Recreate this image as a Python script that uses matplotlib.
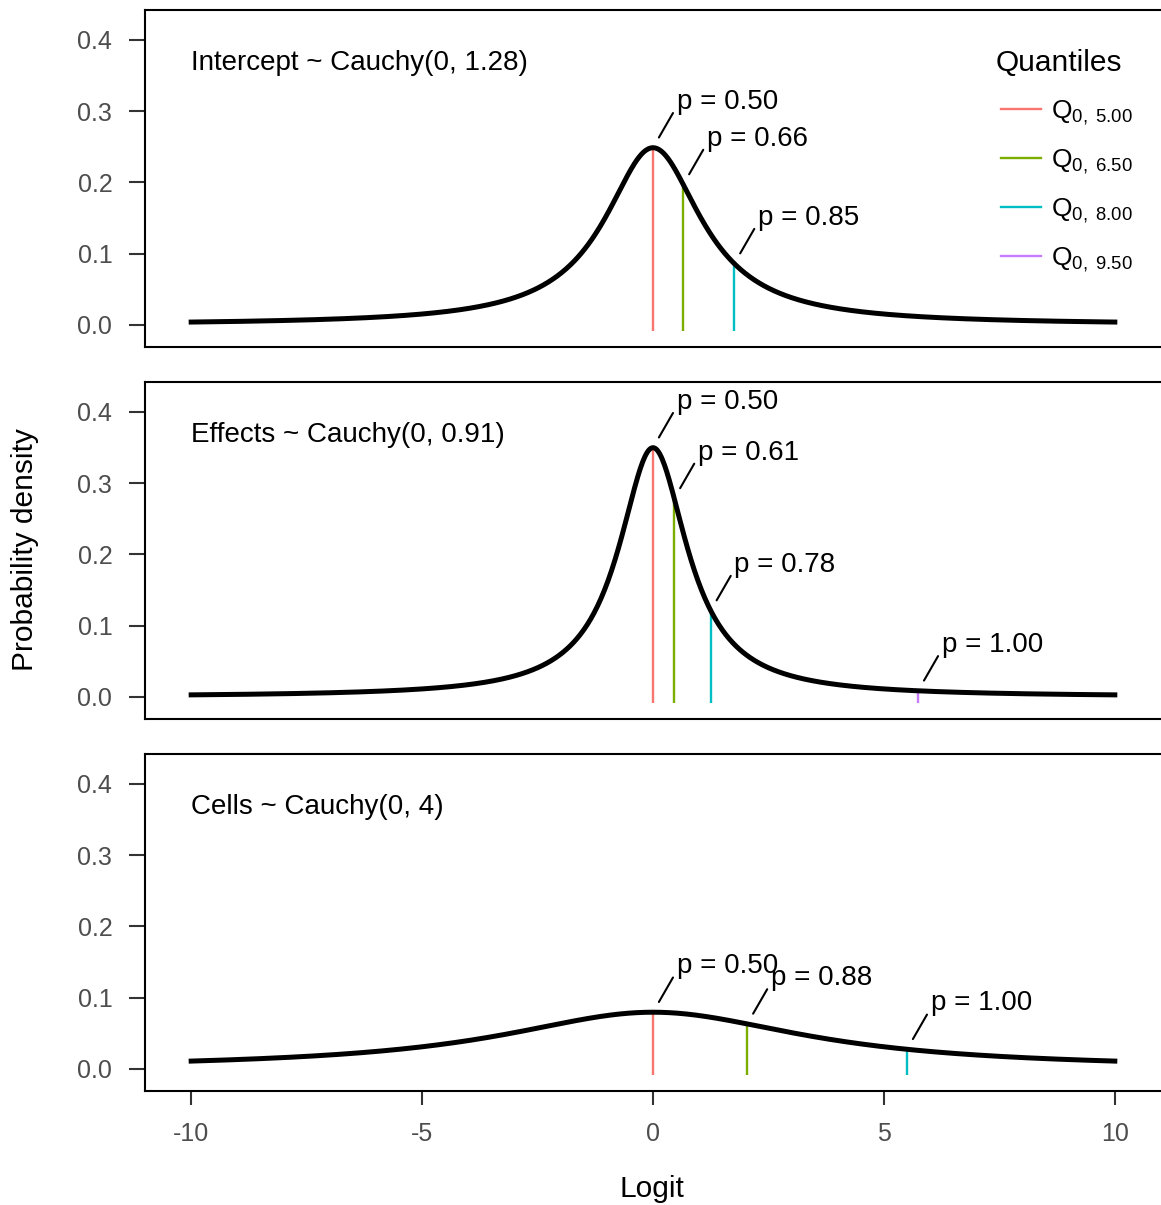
import numpy as np
import matplotlib
matplotlib.use('Agg')
import matplotlib.pyplot as plt
from matplotlib.lines import Line2D

plt.rcParams['font.family'] = ['Liberation Sans', 'DejaVu Sans']
plt.rcParams['mathtext.fontset'] = 'custom'
plt.rcParams['mathtext.rm'] = 'Liberation Sans'
plt.rcParams['mathtext.it'] = 'Liberation Sans:italic'

# prior scales for each panel (Cauchy(0, s))
panel_titles = ['Intercept ~ Cauchy(0, 1.28)', 'Effects ~ Cauchy(0, 0.91)', 'Cells ~ Cauchy(0, 4)']
scales = [1.28, 0.91, 4.0]

# quantile positions (logit) and their labels per panel
q_intercept = [0.0, 0.655, 1.76]
p_intercept = ['0.50', '0.66', '0.85']
q_effects = [0.0, 0.46, 1.25, 5.74]
p_effects = ['0.50', '0.61', '0.78', '1.00']
q_cells = [0.0, 2.04, 5.5]
p_cells = ['0.50', '0.88', '1.00']

legend_labels = ['0, 5.00', '0, 6.50', '0, 8.00', '0, 9.50']
q_colors = ['#F8766D', '#7CAE00', '#00BFC4', '#C77CFF']

quantiles = [q_intercept, q_effects, q_cells]
plabels = [p_intercept, p_effects, p_cells]


def cauchy_pdf(x, s):
    return 1.0 / (np.pi * s * (1 + (x / s) ** 2))


fig = plt.figure(figsize=(11.61, 12.05), dpi=100)
W, H = 1161, 1205
tops = [10, 382, 754]
ph = 337
left = 145

axes = []
for i in range(3):
    ax = fig.add_axes([left / W, 1 - (tops[i] + ph) / H, 1 - left / W, ph / H])
    axes.append(ax)

x = np.linspace(-10, 10, 801)
for i, ax in enumerate(axes):
    s = scales[i]
    # quantile segments
    for j, q in enumerate(quantiles[i]):
        d = cauchy_pdf(q, s)
        ax.plot([q, q], [-0.008, d], color=q_colors[j], lw=1.7, solid_capstyle='butt', zorder=2)
    ax.plot(x, cauchy_pdf(x, s), color='black', lw=3.6, zorder=3)
    for j, q in enumerate(quantiles[i]):
        d = cauchy_pdf(q, s)
        ax.annotate('', xy=(q, d), xytext=(14.4, 25), textcoords='offset points',
                    arrowprops=dict(arrowstyle='-', lw=1.5, color='black', shrinkA=0, shrinkB=8.5))
        ax.annotate('p = ' + plabels[i][j], xy=(q, d), xytext=(17, 33), textcoords='offset points',
                    ha='left', va='center', fontsize=20, color='black')
    ax.text(-10, 0.368, panel_titles[i], ha='left', va='center', fontsize=20)

    ax.set_xlim(-11, 11)
    ax.set_ylim(-0.031, 0.442)
    ax.set_yticks([0.0, 0.1, 0.2, 0.3, 0.4])
    ax.set_yticklabels(['0.0', '0.1', '0.2', '0.3', '0.4'])
    ax.spines['right'].set_visible(False)
    for sp in ['left', 'top', 'bottom']:
        ax.spines[sp].set_linewidth(1.5)
    ax.tick_params(axis='y', length=11.5, width=1.5, pad=12, labelsize=18, colors='#333333',
                   labelcolor='#4d4d4d')
    if i < 2:
        ax.set_xticks([])
    else:
        ax.set_xticks([-10, -5, 0, 5, 10])
        ax.set_xticklabels(['-10', '-5', '0', '5', '10'])
        ax.tick_params(axis='x', length=10, width=1.5, pad=12, labelsize=18, colors='#333333',
                       labelcolor='#4d4d4d')

# legend (title drawn separately so row spacing can be matched)
handles = [Line2D([0], [0], color=c, lw=1.7) for c in q_colors]
labels = [r'Q$_{\mathrm{%s}}$' % l.replace(' ', r'\ ') for l in legend_labels]
leg = axes[0].legend(handles, labels, loc='upper left',
                     bbox_to_anchor=((1001 - left) / 1016, 0.736), frameon=False,
                     fontsize=19, handlelength=1.5, handletextpad=0.38,
                     labelspacing=0.78, borderpad=0, borderaxespad=0)
axes[0].text((996 - left) / 1016, 1 - 53 / ph, 'Quantiles', transform=axes[0].transAxes,
             ha='left', va='center', fontsize=21.5)

fig.text(25 / W, 1 - 550 / H, 'Probability density', rotation=90, ha='center', va='center', fontsize=21.5)
fig.text(652 / W, 1 - 1189 / H, 'Logit', ha='center', va='center', fontsize=21.5)

fig.savefig('out.png', dpi=100)
